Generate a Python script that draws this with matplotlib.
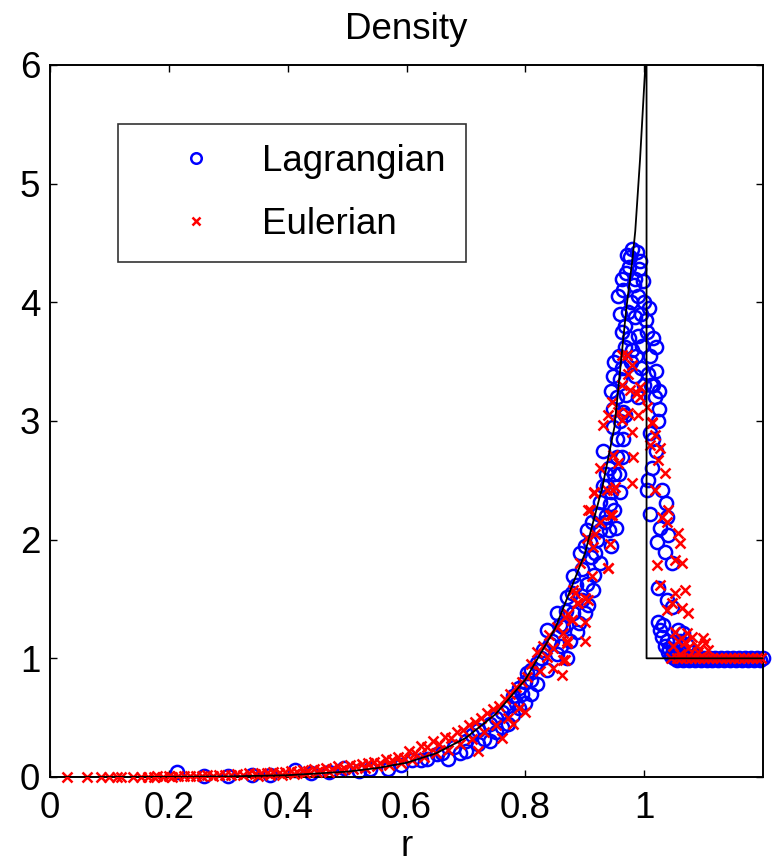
import matplotlib
matplotlib.use("Agg")
import matplotlib.pyplot as plt

plt.rcParams['font.family'] = ['Liberation Sans', 'DejaVu Sans']

# exact solution
exact_r = [0.0, 0.1, 0.2, 0.3, 0.4, 0.5, 0.55, 0.6, 0.65, 0.7, 0.75, 0.8, 0.85, 0.9,
           0.93, 0.95, 0.96, 0.97, 0.98, 0.985, 0.993, 1.002, 1.004, 1.004, 1.2]
exact_rho = [0.0, 0.0, 0.001, 0.005, 0.015, 0.045, 0.075, 0.12, 0.2, 0.33, 0.53, 0.82, 1.25, 1.88,
             2.45, 2.95, 3.45, 3.95, 4.35, 4.6, 5.2, 6.0, 6.0, 1.0, 1.0]

# Lagrangian particles
lag_r = [0.213, 0.26, 0.30, 0.34, 0.37, 0.412, 0.44, 0.47, 0.494, 0.52, 0.539, 0.569, 0.59, 0.61,
         0.625, 0.635, 0.651,
         0.66, 0.67, 0.68, 0.69, 0.70, 0.70, 0.71, 0.72, 0.72, 0.73, 0.74, 0.74, 0.75, 0.75, 0.76,
         0.76, 0.77, 0.77, 0.78, 0.78, 0.79, 0.79, 0.80, 0.80, 0.81, 0.81, 0.82, 0.82,
         0.803, 0.836, 0.83, 0.853, 0.87, 0.836, 0.864, 0.887, 0.853, 0.88, 0.90, 0.87, 0.895,
         0.88, 0.904, 0.914, 0.892, 0.917, 0.926, 0.91, 0.904, 0.926, 0.94, 0.926, 0.943, 0.938,
         0.86, 0.875, 0.89, 0.905, 0.915, 0.92, 0.935, 0.95, 0.96, 0.94, 0.955, 0.965, 0.93, 0.948,
         0.96, 0.945, 0.952, 0.958, 0.935,
         0.845, 0.858, 0.868, 0.878, 0.885, 0.896, 0.9, 0.908, 0.912, 0.922, 0.93, 0.934, 0.944,
         0.95, 0.955, 0.962, 0.968, 0.826, 0.842, 0.81, 0.795, 0.785,
         0.971, 0.98, 0.988, 0.993, 0.975, 0.963, 0.97, 0.985, 0.998, 0.992, 0.956, 0.965, 0.978,
         0.99, 1.0, 1.008, 0.96, 0.972, 0.985, 0.995, 1.003, 0.962, 0.975, 0.99, 1.005, 1.015,
         0.968, 0.98, 0.997, 1.02, 0.95, 0.962, 0.978, 0.995, 1.01, 1.02, 0.948, 0.96, 0.985,
         1.015, 1.025, 0.945, 0.955, 0.97, 0.99, 1.025, 0.948, 0.965, 1.024,
         0.976, 0.983, 0.967, 0.958, 0.986, 1.0, 1.006,
         1.013, 1.007, 1.005, 1.03, 1.037, 1.038, 1.01, 1.027, 1.04, 1.022, 1.035, 1.047, 1.024,
         1.038, 1.047, 1.024, 1.032, 1.027, 1.057, 1.066, 1.038, 1.049, 1.06, 1.072, 1.049, 1.04,
         1.055, 1.065, 1.08, 1.045, 1.015, 1.02, 1.01, 1.018, 1.012,
         1.03, 1.035, 1.042, 1.05, 1.058, 1.062, 1.07,
         1.05, 1.055, 1.06, 1.065, 1.07, 1.075, 1.08, 1.085, 1.09, 1.095, 1.10, 1.105, 1.11,
         1.115, 1.12, 1.125, 1.13, 1.135, 1.14, 1.145, 1.15, 1.155, 1.16, 1.165, 1.17, 1.175,
         1.18, 1.185, 1.19, 1.195, 1.20]
lag_rho = [0.04, 0.01, 0.01, 0.015, 0.02, 0.06, 0.03, 0.04, 0.08, 0.05, 0.07, 0.07, 0.10, 0.14,
           0.14, 0.15, 0.19,
           0.20, 0.15, 0.25, 0.20, 0.30, 0.22, 0.35, 0.28, 0.40, 0.32, 0.45, 0.30, 0.50, 0.38, 0.55,
           0.42, 0.60, 0.45, 0.68, 0.52, 0.75, 0.58, 0.80, 0.62, 0.90, 0.70, 0.96, 0.78,
           0.88, 0.90, 1.07, 1.04, 1.00, 1.24, 1.26, 1.22, 1.38, 1.38, 1.38, 1.52, 1.49,
           1.69, 1.63, 1.58, 1.89, 1.89, 1.80, 1.85, 2.08, 2.08, 2.08, 2.32, 2.30, 2.45,
           1.10, 1.15, 1.30, 1.45, 1.70, 2.00, 2.20, 2.25, 2.40, 2.60, 2.70, 2.85, 2.75, 2.95,
           3.00, 1.95, 2.10, 2.55, 2.55,
           1.15, 1.28, 1.40, 1.55, 1.62, 1.75, 1.95, 1.98, 2.15, 2.22, 2.45, 2.15, 2.40,
           2.55, 2.85, 2.70, 3.05, 1.0, 1.12, 0.82, 0.70, 0.62,
           4.40, 4.45, 4.42, 4.35, 4.30, 4.20, 4.25, 4.20, 4.18, 4.28, 4.05, 4.10, 4.00,
           4.05, 4.00, 3.95, 3.90, 3.92, 3.88, 3.90, 3.85, 3.75, 3.70, 3.72, 3.75, 3.70,
           3.62, 3.60, 3.63, 3.62, 3.50, 3.45, 3.50, 3.45, 3.55, 3.42, 3.38, 3.35, 3.38,
           3.30, 3.25, 3.25, 3.20, 3.22, 3.20, 3.10, 3.10, 3.08, 3.00,
           4.38, 4.15, 3.80, 3.55, 3.55, 3.30, 3.40,
           2.60, 2.50, 2.42, 2.42, 2.31, 2.19, 2.22, 2.10, 2.04, 1.98, 1.90, 1.80, 1.59,
           1.49, 1.43, 1.31, 1.28, 1.24, 1.24, 1.21, 1.15, 1.13, 1.15, 1.11, 1.07, 1.05,
           1.04, 1.05, 1.05, 1.02, 2.85, 2.75, 2.90, 3.20, 3.30,
           1.18, 1.10, 1.08, 1.03, 1.08, 1.02, 1.03,
           1.00, 0.99, 1.00, 0.99, 1.00, 0.99, 1.00, 0.99, 1.00, 0.99, 1.00, 0.99, 1.00,
           0.99, 1.00, 0.99, 1.00, 0.99, 1.00, 0.99, 1.00, 0.99, 1.00, 0.99, 1.00, 0.99,
           1.00, 0.99, 1.00, 0.99, 1.00]

# Eulerian cells
eul_r = [0.028, 0.063, 0.085, 0.10, 0.112, 0.12, 0.14, 0.153, 0.165, 0.175, 0.18, 0.19, 0.20,
         0.205, 0.215, 0.225, 0.235, 0.245, 0.255, 0.265, 0.275, 0.285, 0.295, 0.305, 0.315,
         0.325, 0.335, 0.345, 0.355, 0.365, 0.375, 0.385, 0.395, 0.405, 0.415, 0.425, 0.435,
         0.445, 0.455, 0.465, 0.475, 0.485, 0.495, 0.505, 0.515, 0.525, 0.535, 0.545, 0.555,
         0.565, 0.575, 0.585, 0.595,
         0.35, 0.37, 0.39, 0.41, 0.43, 0.45, 0.47, 0.49, 0.51, 0.53, 0.55, 0.57, 0.59,
         0.605, 0.615, 0.625, 0.635, 0.645, 0.655, 0.665, 0.675, 0.685, 0.695, 0.705, 0.715,
         0.725, 0.735, 0.745, 0.755, 0.765, 0.775, 0.785, 0.795,
         0.61, 0.63, 0.65, 0.67, 0.69, 0.71, 0.73, 0.75, 0.77, 0.79, 0.72, 0.76, 0.78, 0.80,
         0.81, 0.82, 0.83, 0.84,
         0.915, 0.938, 0.951, 0.906, 0.926, 0.943, 0.904, 0.914, 0.943, 0.939, 0.892, 0.912,
         0.88, 0.90, 0.887, 0.878, 0.90, 0.872, 0.853, 0.864, 0.90, 0.87, 0.847, 0.836, 0.867,
         0.847, 0.825, 0.803, 0.862,
         0.98, 0.982, 0.98, 0.926, 0.948, 0.956, 0.915, 0.948, 0.909, 0.946, 0.918, 0.939,
         0.884, 0.906, 0.889, 0.867, 0.879, 0.87, 0.864,
         0.963, 0.971, 0.98, 0.973, 0.963, 0.993, 0.976, 0.988, 0.993, 1.005, 0.946, 0.939,
         0.956, 0.973, 0.99, 0.963, 1.013, 0.931,
         1.013, 1.019, 1.01, 1.027, 1.024, 1.035, 1.019, 1.03, 1.04, 1.038, 1.057, 1.06,
         1.052, 1.064, 1.022, 1.027, 1.052, 1.069, 1.047, 1.064, 1.074, 1.038, 1.052, 1.072,
         1.081, 1.099, 1.057, 1.069, 1.103, 1.089, 1.049, 1.074, 1.108, 1.09, 1.06,
         1.045, 1.055, 1.062, 1.07, 1.078, 1.085, 1.092, 1.10, 1.108, 1.115, 1.122, 1.13,
         1.138, 1.145, 1.152, 1.16, 1.168, 1.175, 1.182, 1.19, 1.197]
eul_rho = [0.0, 0.0, 0.0, 0.0, 0.0, 0.0, 0.0, 0.0, 0.0, 0.0, 0.005, 0.0, 0.005,
           0.0, 0.005, 0.01, 0.005, 0.01, 0.01, 0.015, 0.01, 0.02, 0.015, 0.02, 0.025,
           0.02, 0.03, 0.025, 0.035, 0.03, 0.04, 0.035, 0.045, 0.05, 0.04, 0.06, 0.05,
           0.07, 0.06, 0.08, 0.07, 0.09, 0.08, 0.10, 0.09, 0.11, 0.12, 0.13, 0.12,
           0.15, 0.14, 0.17, 0.16,
           0.01, 0.015, 0.02, 0.025, 0.03, 0.04, 0.045, 0.055, 0.065, 0.08, 0.09, 0.10, 0.12,
           0.22, 0.20, 0.26, 0.25, 0.30, 0.28, 0.34, 0.33, 0.38, 0.40, 0.44, 0.46,
           0.50, 0.54, 0.57, 0.60, 0.66, 0.70, 0.76, 0.80,
           0.14, 0.17, 0.20, 0.23, 0.28, 0.32, 0.38, 0.44, 0.50, 0.58, 0.22, 0.33, 0.45, 0.55,
           0.95, 1.05, 1.10, 1.20,
           2.39, 2.42, 2.44, 2.25, 2.15, 2.21, 2.01, 1.94, 1.96, 1.76, 1.80, 1.69,
           1.58, 1.51, 1.47, 1.32, 1.31, 1.37, 1.26, 1.21, 1.15, 1.13, 1.09, 1.01, 0.99,
           0.92, 0.89, 0.84, 0.86,
           2.91, 2.70, 2.48, 2.60, 2.71, 2.65, 2.40, 2.42, 2.25, 2.21, 2.05, 1.76,
           1.55, 1.49, 1.47, 1.35, 1.32, 1.15, 0.99,
           3.56, 3.56, 3.47, 3.40, 3.30, 3.29, 3.26, 3.24, 3.20, 3.12, 3.16, 3.05,
           3.08, 3.07, 3.05, 3.01, 2.99, 2.97,
           2.98, 2.88, 2.80, 2.77, 2.67, 2.56, 2.42, 2.19, 2.25, 2.15, 2.06, 1.97,
           1.83, 1.80, 1.79, 1.62, 1.55, 1.58, 1.47, 1.42, 1.38, 1.41, 1.22, 1.21,
           1.18, 1.17, 1.15, 1.14, 1.13, 1.10, 1.10, 1.09, 1.07, 1.05, 1.04,
           1.0, 1.0, 1.0, 1.0, 1.0, 1.0, 1.0, 1.0, 1.0, 1.0, 1.0, 1.0,
           1.0, 1.0, 1.0, 1.0, 1.0, 1.0, 1.0, 1.0, 1.0]

xtick_vals = [0, 0.2, 0.4, 0.6, 0.8, 1.0]
xtick_labels = ['0', '0.2', '0.4', '0.6', '0.8', '1']
ytick_vals = [0, 1, 2, 3, 4, 5, 6]
ytick_labels = ['0', '1', '2', '3', '4', '5', '6']

FS = 26.5

fig = plt.figure(figsize=(7.75, 8.67), dpi=100)
ax = fig.add_axes([50 / 775, 90 / 867, 713 / 775, 712 / 867])

ax.plot(lag_r, lag_rho, 'o', mfc='none', mec='blue', ms=9.5, mew=1.8,
        label='Lagrangian', clip_on=False, zorder=2)
ax.plot(eul_r, eul_rho, 'x', color='red', ms=6.5, mew=1.8,
        label='Eulerian', clip_on=False, zorder=3)
ax.plot(exact_r, exact_rho, '-', color='black', lw=1.3, zorder=4)

ax.set_xlim(0, 1.2)
ax.set_ylim(0, 6)
ax.set_xticks(xtick_vals)
ax.set_xticklabels(xtick_labels)
ax.set_yticks(ytick_vals)
ax.set_yticklabels(ytick_labels)
ax.tick_params(direction='in', length=5, width=1, top=True, right=True, labelsize=FS)
ax.tick_params(axis='x', pad=10)
ax.tick_params(axis='y', pad=7)
for s in ax.spines.values():
    s.set_linewidth(1.4)

ax.set_title('Density', fontsize=FS, pad=19)
ax.set_xlabel('r', fontsize=FS, labelpad=2)

handles, labels = ax.get_legend_handles_labels()
leg = ax.legend(handles[:2], labels[:2], loc='upper left', bbox_to_anchor=(0.095, 0.917),
                borderaxespad=0, fontsize=FS, frameon=True, fancybox=False,
                edgecolor='black', handlelength=3.2, handletextpad=0.19,
                labelspacing=0.76, borderpad=0.54, numpoints=1, markerscale=0.8)
leg.get_frame().set_linewidth(1.2)

fig.savefig('out.png', dpi=100)
